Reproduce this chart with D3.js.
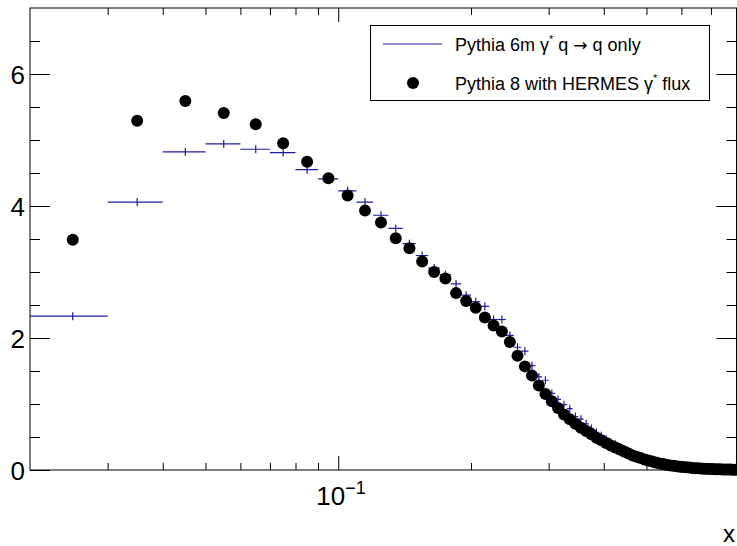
<!DOCTYPE html>
<html>
<head>
<meta charset="utf-8">
<script src="https://cdn.jsdelivr.net/npm/d3@7"></script>
<style>
  body { margin: 0; background: #fff; }
  text { font-family: "Liberation Sans", Arial, Helvetica, sans-serif; fill: #000; }
</style>
</head>
<body>
<div id="chart"></div>
<script>
// bin centres (0.01 wide bins), x from 0.02 to 0.8
var xCenters = [
  0.025, 0.035, 0.045, 0.055, 0.065, 0.075, 0.085, 0.095, 0.105, 0.115,
  0.125, 0.135, 0.145, 0.155, 0.165, 0.175, 0.185, 0.195, 0.205, 0.215,
  0.225, 0.235, 0.245, 0.255, 0.265, 0.275, 0.285, 0.295, 0.305, 0.315,
  0.325, 0.335, 0.345, 0.355, 0.365, 0.375, 0.385, 0.395, 0.405, 0.415,
  0.425, 0.435, 0.445, 0.455, 0.465, 0.475, 0.485, 0.495, 0.505, 0.515,
  0.525, 0.535, 0.545, 0.555, 0.565, 0.575, 0.585, 0.595, 0.605, 0.615,
  0.625, 0.635, 0.645, 0.655, 0.665, 0.675, 0.685, 0.695, 0.705, 0.715,
  0.725, 0.735, 0.745, 0.755, 0.765, 0.775, 0.785, 0.795
];
var binHalf = 0.005;

// Pythia 6m  gamma* q -> q only (blue histogram)
var pythia6 = [
  2.33, 4.06, 4.82, 4.94, 4.86, 4.81, 4.55, 4.41, 4.23, 4.06,
  3.86, 3.66, 3.43, 3.25, 3.06, 2.96, 2.82, 2.65, 2.55, 2.48,
  2.28, 2.28, 2.04, 1.86, 1.80, 1.58, 1.41, 1.36, 1.16, 1.07,
  0.99, 0.93, 0.81, 0.77, 0.70, 0.63, 0.57, 0.52, 0.47, 0.42,
  0.39, 0.35, 0.31, 0.28, 0.25, 0.22, 0.19, 0.17, 0.155, 0.14,
  0.12, 0.11, 0.10, 0.09, 0.08, 0.07, 0.06, 0.055, 0.05, 0.045,
  0.04, 0.035, 0.03, 0.027, 0.024, 0.021, 0.019, 0.017, 0.015, 0.013,
  0.012, 0.011, 0.01, 0.009, 0.008, 0.007, 0.006, 0.005
];
var pythia6Err = 0.06;

// Pythia 8 with HERMES gamma* flux (black dots)
var pythia8 = [
  3.49, 5.29, 5.59, 5.41, 5.24, 4.95, 4.67, 4.42, 4.16, 3.93,
  3.75, 3.51, 3.36, 3.16, 3.00, 2.90, 2.68, 2.56, 2.46, 2.31,
  2.19, 2.10, 1.94, 1.73, 1.57, 1.43, 1.28, 1.15, 1.04, 0.94,
  0.84, 0.77, 0.70, 0.64, 0.59, 0.54, 0.49, 0.45, 0.41, 0.37,
  0.34, 0.31, 0.28, 0.25, 0.22, 0.20, 0.18, 0.16, 0.145, 0.13,
  0.115, 0.10, 0.09, 0.08, 0.07, 0.063, 0.056, 0.05, 0.045, 0.04,
  0.036, 0.032, 0.028, 0.025, 0.022, 0.02, 0.018, 0.016, 0.014, 0.012,
  0.011, 0.01, 0.009, 0.008, 0.007, 0.006, 0.005, 0.004
];

var xMajor = [0.1];
var xMinor = [0.03, 0.04, 0.05, 0.06, 0.07, 0.08, 0.09, 0.2, 0.3, 0.4, 0.5, 0.6, 0.7];
var yMajor = [0, 2, 4, 6];
var yMinor = [0.5, 1, 1.5, 2.5, 3, 3.5, 4.5, 5, 5.5, 6.5];

var legendLabels = ["Pythia 6m \u03b3", "Pythia 8 with HERMES \u03b3"];

var svgWidth = 737;
var svgHeight = 546;
var margin = {top: 8, right: 0.5, bottom: 76, left: 30};
var width  = svgWidth  - margin.left - margin.right;
var height = svgHeight - margin.top  - margin.bottom;

var blue = "#1c1ca0";

var svg = d3.select("#chart")
  .append("svg")
  .attr("width", svgWidth)
  .attr("height", svgHeight);

var chartGroup = svg.append("g")
  .attr("transform", `translate(${margin.left}, ${margin.top})`);

var xScale = d3.scaleLog().domain([0.02, 0.8]).range([0, width]);
var yScale = d3.scaleLinear().domain([0, 7]).range([height, 0]);

// axes: ticks point inward like ROOT
function addAxis(axis, tx, ty) {
  var g = chartGroup.append("g")
    .attr("transform", `translate(${tx}, ${ty})`)
    .call(axis);
  g.select(".domain").remove();
  g.selectAll("line").attr("stroke", "#000").attr("stroke-width", 1);
  return g;
}

addAxis(d3.axisBottom(xScale).tickValues(xMinor).tickSize(-7).tickFormat(""), 0, height);
addAxis(d3.axisBottom(xScale).tickValues(xMajor).tickSize(-14).tickFormat(""), 0, height);
addAxis(d3.axisTop(xScale).tickValues(xMinor).tickSize(-7).tickFormat(""), 0, 0);
addAxis(d3.axisTop(xScale).tickValues(xMajor).tickSize(-14).tickFormat(""), 0, 0);

addAxis(d3.axisLeft(yScale).tickValues(yMinor).tickSize(-10).tickFormat(""), 0, 0);
var yAxis = addAxis(d3.axisLeft(yScale).tickValues(yMajor).tickSize(-20).tickPadding(25)
  .tickFormat(d3.format("d")), 0, 0);
addAxis(d3.axisRight(yScale).tickValues(yMinor).tickSize(-10).tickFormat(""), width, 0);
addAxis(d3.axisRight(yScale).tickValues(yMajor).tickSize(-20).tickFormat(""), width, 0);

yAxis.selectAll("text")
  .attr("x", -5)
  .attr("dy", "0.36em")
  .attr("font-size", 26)
  .attr("font-family", "Liberation Sans, Arial, sans-serif")
  .attr("fill", "#000");

// 10^-1 label
var xLab = chartGroup.append("text")
  .attr("x", xScale(0.1) - 22)
  .attr("y", height + 35)
  .attr("font-size", 26)
  .text("10");
xLab.append("tspan")
  .attr("dy", -11)
  .attr("font-size", 18)
  .text("\u22121");

// axis title
svg.append("text")
  .attr("x", 735)
  .attr("y", 542)
  .attr("text-anchor", "end")
  .attr("font-size", 24)
  .text("x");

// clip for the marks
svg.append("clipPath").attr("id", "frameClip")
  .append("rect").attr("width", width).attr("height", height);

var marks = chartGroup.append("g").attr("clip-path", "url(#frameClip)");

// blue histogram: horizontal bin line + vertical error bar
var bins = xCenters.map(function(c, i) {
  return {x: c, lo: c - binHalf, hi: c + binHalf, y: pythia6[i]};
});

var histGroup = marks.append("g")
  .attr("stroke", blue)
  .attr("stroke-width", 1.2);

histGroup.selectAll("line.hbar")
  .data(bins)
  .enter()
  .append("line")
  .attr("class", "hbar")
  .attr("x1", d => xScale(d.lo))
  .attr("x2", d => xScale(d.hi))
  .attr("y1", d => yScale(d.y))
  .attr("y2", d => yScale(d.y));

histGroup.selectAll("line.ebar")
  .data(bins)
  .enter()
  .append("line")
  .attr("class", "ebar")
  .attr("x1", d => xScale(d.x))
  .attr("x2", d => xScale(d.x))
  .attr("y1", d => yScale(d.y - pythia6Err))
  .attr("y2", d => yScale(d.y + pythia6Err));

// black dots
svg.append("g")
  .attr("transform", `translate(${margin.left}, ${margin.top})`)
  .selectAll("circle")
  .data(xCenters)
  .enter()
  .append("circle")
  .attr("cx", d => xScale(d))
  .attr("cy", (d, i) => yScale(pythia8[i]))
  .attr("r", 6)
  .attr("fill", "#000");

// frame
chartGroup.append("rect")
  .attr("width", width)
  .attr("height", height)
  .attr("fill", "none")
  .attr("stroke", "#000")
  .attr("stroke-width", 1);

// legend
var legend = svg.append("g");
legend.append("rect")
  .attr("x", 370.5)
  .attr("y", 25.5)
  .attr("width", 339)
  .attr("height", 75)
  .attr("fill", "#fff")
  .attr("stroke", "#000")
  .attr("stroke-width", 1);

legend.append("line")
  .attr("x1", 383).attr("x2", 442)
  .attr("y1", 44).attr("y2", 44)
  .attr("stroke", blue)
  .attr("stroke-width", 1.2);

legend.append("circle")
  .attr("cx", 413)
  .attr("cy", 83)
  .attr("r", 6)
  .attr("fill", "#000");

var t1 = legend.append("text")
  .attr("x", 455)
  .attr("y", 51)
  .attr("font-size", 18)
  .text(legendLabels[0]);
t1.append("tspan").attr("dy", -8).attr("font-size", 11).text("*");
t1.append("tspan").attr("dy", 8).text(" q ");
t1.append("tspan").attr("font-family", "DejaVu Sans").attr("font-size", 17).text("\u2192");
t1.append("tspan").text(" q only");

var t2 = legend.append("text")
  .attr("x", 455)
  .attr("y", 90)
  .attr("font-size", 18)
  .text(legendLabels[1]);
t2.append("tspan").attr("dy", -8).attr("font-size", 11).text("*");
t2.append("tspan").attr("dy", 8).text(" flux");
</script>
</body>
</html>
